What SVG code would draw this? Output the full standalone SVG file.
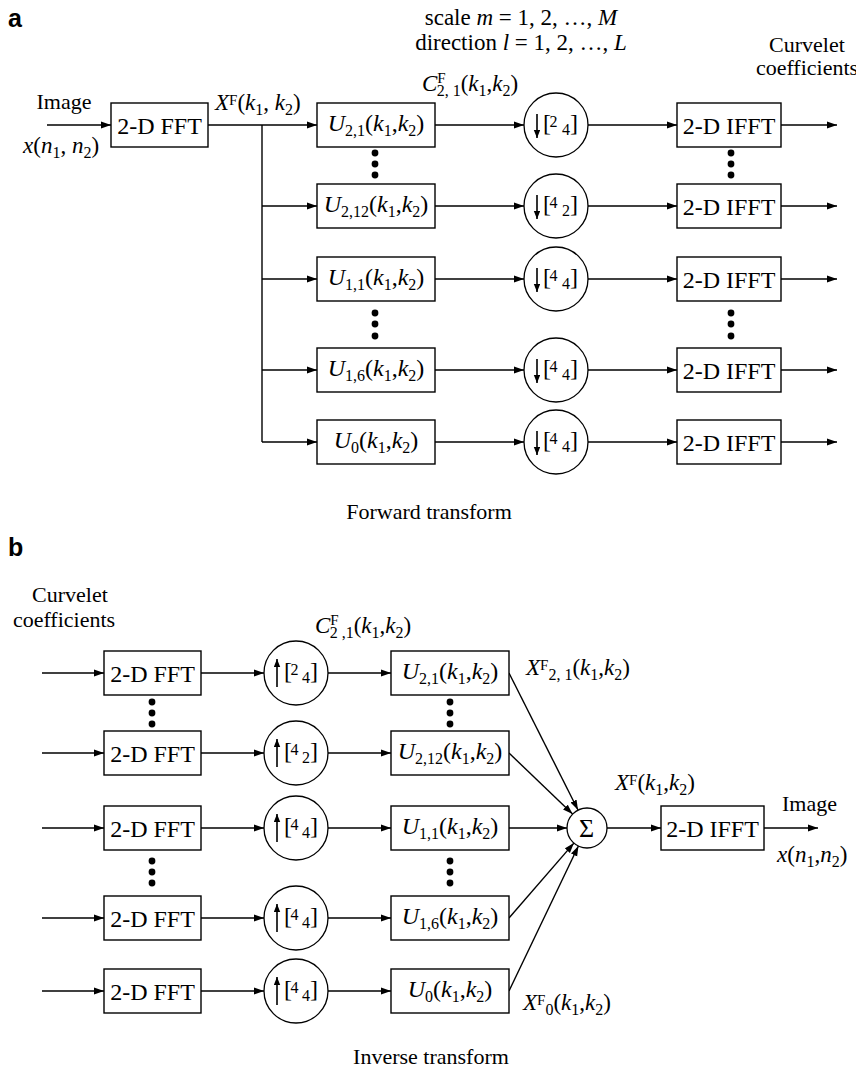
<svg xmlns="http://www.w3.org/2000/svg" width="856" height="1070" viewBox="0 0 856 1070">
<defs>
<marker id="ah" markerWidth="11" markerHeight="8" refX="10" refY="4" orient="auto" markerUnits="userSpaceOnUse"><path d="M0,0.6 L10,4 L0,7.4 z" fill="#000"/></marker>
<marker id="sh" markerWidth="9" markerHeight="7" refX="8" refY="3.2" orient="auto" markerUnits="userSpaceOnUse"><path d="M0,0 L8,3.2 L0,6.4 z" fill="#000"/></marker>
<style>
.box{fill:#fff;stroke:#000;stroke-width:1.4}
.cir{fill:#fff;stroke:#000;stroke-width:1.3}
.ln{fill:none;stroke:#000;stroke-width:1.4}
.ar{fill:none;stroke:#000;stroke-width:1.4;marker-end:url(#ah)}
.sa{fill:none;stroke:#000;stroke-width:1.6;marker-end:url(#sh)}
.dot{fill:#000}
text{font-family:"Liberation Serif","Times New Roman",serif;font-size:22px;fill:#000}
.c{text-anchor:middle}
.m{font-size:23px}
.bl{font-size:24px}
.ul{font-size:24px}
.i{font-style:italic}
.s{font-size:16px}
.br{font-size:24px}
.d{font-size:15px}
.dd{font-size:16px}
.sg{font-size:26px}
.lab{font-family:"Liberation Sans",Arial,sans-serif;font-weight:bold;font-size:25px}
</style>
</defs>

<!-- ===== Part a ===== -->
<text class="lab" x="8" y="27">a</text>
<text class="c" x="64" y="109">Image</text>
<text class="m" x="23" y="153"><tspan class="i">x</tspan>(<tspan class="i">n</tspan><tspan class="s" dy="5">1</tspan><tspan dy="-5">, </tspan><tspan class="i">n</tspan><tspan class="s" dy="5">2</tspan><tspan dy="-5">)</tspan></text>
<text class="m" x="215" y="110"><tspan class="i">X</tspan><tspan class="d" dy="-5">F</tspan><tspan dy="5">(</tspan><tspan class="i">k</tspan><tspan class="s" dy="5">1</tspan><tspan dy="-5">, </tspan><tspan class="i">k</tspan><tspan class="s" dy="5">2</tspan><tspan dy="-5">)</tspan></text>
<text class="c m" x="521" y="25">scale <tspan class="i">m</tspan> = 1, 2, …, <tspan class="i">M</tspan></text>
<text class="c m" x="521" y="50">direction <tspan class="i">l</tspan> = 1, 2, …, <tspan class="i">L</tspan></text>
<text class="m" x="422" y="91"><tspan class="i">C</tspan><tspan class="d" dy="-8">F</tspan><tspan class="s" dx="-9" dy="13">2, 1</tspan><tspan dy="-5">(</tspan><tspan class="i">k</tspan><tspan class="s" dy="5">1</tspan><tspan dy="-5">,</tspan><tspan class="i">k</tspan><tspan class="s" dy="5">2</tspan><tspan dy="-5">)</tspan></text>
<text class="c" x="807" y="52">Curvelet</text>
<text class="c" x="807" y="75">coefficients</text>
<text class="c" x="429" y="519">Forward transform</text>

<g id="a-connectors">
<line class="ar" x1="47" y1="125" x2="111" y2="125"/>
<line class="ar" x1="208" y1="125" x2="317" y2="125"/>
<line class="ln" x1="262" y1="125" x2="262" y2="442"/>
<line class="ar" x1="262" y1="206" x2="317" y2="206"/>
<line class="ar" x1="262" y1="279" x2="317" y2="279"/>
<line class="ar" x1="262" y1="370" x2="317" y2="370"/>
<line class="ar" x1="262" y1="442" x2="317" y2="442"/>
<line class="ar" x1="435" y1="125" x2="524" y2="125"/>
<line class="ar" x1="435" y1="206" x2="524" y2="206"/>
<line class="ar" x1="435" y1="279" x2="524" y2="279"/>
<line class="ar" x1="435" y1="370" x2="524" y2="370"/>
<line class="ar" x1="435" y1="442" x2="524" y2="442"/>
<line class="ar" x1="588" y1="125" x2="677" y2="125"/>
<line class="ar" x1="588" y1="206" x2="677" y2="206"/>
<line class="ar" x1="588" y1="279" x2="677" y2="279"/>
<line class="ar" x1="588" y1="370" x2="677" y2="370"/>
<line class="ar" x1="588" y1="442" x2="677" y2="442"/>
<line class="ar" x1="781" y1="125" x2="837" y2="125"/>
<line class="ar" x1="781" y1="206" x2="837" y2="206"/>
<line class="ar" x1="781" y1="279" x2="837" y2="279"/>
<line class="ar" x1="781" y1="370" x2="837" y2="370"/>
<line class="ar" x1="781" y1="442" x2="837" y2="442"/>
</g>

<g id="a-fft"><rect class="box" x="111" y="103" width="97" height="44"/><text class="c bl" x="159.5" y="134">2-D FFT</text></g>

<g id="a-u21"><rect class="box" x="317" y="103" width="118" height="44"/><text class="c ul" x="376" y="131"><tspan class="i">U</tspan><tspan class="s" dy="5">2,1</tspan><tspan dy="-5">(</tspan><tspan class="i">k</tspan><tspan class="s" dy="5">1</tspan><tspan dy="-5">,</tspan><tspan class="i">k</tspan><tspan class="s" dy="5">2</tspan><tspan dy="-5">)</tspan></text></g>
<g id="a-u212"><rect class="box" x="317" y="184" width="118" height="44"/><text class="c ul" x="376" y="212"><tspan class="i">U</tspan><tspan class="s" dy="5">2,12</tspan><tspan dy="-5">(</tspan><tspan class="i">k</tspan><tspan class="s" dy="5">1</tspan><tspan dy="-5">,</tspan><tspan class="i">k</tspan><tspan class="s" dy="5">2</tspan><tspan dy="-5">)</tspan></text></g>
<g id="a-u11"><rect class="box" x="317" y="257" width="118" height="44"/><text class="c ul" x="376" y="285"><tspan class="i">U</tspan><tspan class="s" dy="5">1,1</tspan><tspan dy="-5">(</tspan><tspan class="i">k</tspan><tspan class="s" dy="5">1</tspan><tspan dy="-5">,</tspan><tspan class="i">k</tspan><tspan class="s" dy="5">2</tspan><tspan dy="-5">)</tspan></text></g>
<g id="a-u16"><rect class="box" x="317" y="348" width="118" height="44"/><text class="c ul" x="376" y="376"><tspan class="i">U</tspan><tspan class="s" dy="5">1,6</tspan><tspan dy="-5">(</tspan><tspan class="i">k</tspan><tspan class="s" dy="5">1</tspan><tspan dy="-5">,</tspan><tspan class="i">k</tspan><tspan class="s" dy="5">2</tspan><tspan dy="-5">)</tspan></text></g>
<g id="a-u0"><rect class="box" x="317" y="420" width="118" height="44"/><text class="c ul" x="376" y="448"><tspan class="i">U</tspan><tspan class="s" dy="5">0</tspan><tspan dy="-5">(</tspan><tspan class="i">k</tspan><tspan class="s" dy="5">1</tspan><tspan dy="-5">,</tspan><tspan class="i">k</tspan><tspan class="s" dy="5">2</tspan><tspan dy="-5">)</tspan></text></g>

<g id="a-d1"><circle class="cir" cx="556" cy="125" r="32"/><line class="sa" x1="537" y1="114" x2="537" y2="138"/><text><tspan class="br" x="543" y="131">[</tspan><tspan class="dd" x="549.5" y="127">2</tspan><tspan class="dd" x="562" y="135">4</tspan><tspan class="br" x="570" y="131">]</tspan></text></g>
<g id="a-d2"><circle class="cir" cx="556" cy="206" r="32"/><line class="sa" x1="537" y1="195" x2="537" y2="219"/><text><tspan class="br" x="543" y="212">[</tspan><tspan class="dd" x="549.5" y="208">4</tspan><tspan class="dd" x="562" y="216">2</tspan><tspan class="br" x="570" y="212">]</tspan></text></g>
<g id="a-d3"><circle class="cir" cx="556" cy="279" r="32"/><line class="sa" x1="537" y1="268" x2="537" y2="292"/><text><tspan class="br" x="543" y="285">[</tspan><tspan class="dd" x="549.5" y="281">4</tspan><tspan class="dd" x="562" y="289">4</tspan><tspan class="br" x="570" y="285">]</tspan></text></g>
<g id="a-d4"><circle class="cir" cx="556" cy="370" r="32"/><line class="sa" x1="537" y1="359" x2="537" y2="383"/><text><tspan class="br" x="543" y="376">[</tspan><tspan class="dd" x="549.5" y="372">4</tspan><tspan class="dd" x="562" y="380">4</tspan><tspan class="br" x="570" y="376">]</tspan></text></g>
<g id="a-d5"><circle class="cir" cx="556" cy="442" r="32"/><line class="sa" x1="537" y1="431" x2="537" y2="455"/><text><tspan class="br" x="543" y="448">[</tspan><tspan class="dd" x="549.5" y="444">4</tspan><tspan class="dd" x="562" y="452">4</tspan><tspan class="br" x="570" y="448">]</tspan></text></g>

<g id="a-ifft1"><rect class="box" x="677" y="103" width="104" height="44"/><text class="c bl" x="729" y="134">2-D IFFT</text></g>
<g id="a-ifft2"><rect class="box" x="677" y="184" width="104" height="44"/><text class="c bl" x="729" y="215">2-D IFFT</text></g>
<g id="a-ifft3"><rect class="box" x="677" y="257" width="104" height="44"/><text class="c bl" x="729" y="288">2-D IFFT</text></g>
<g id="a-ifft4"><rect class="box" x="677" y="348" width="104" height="44"/><text class="c bl" x="729" y="379">2-D IFFT</text></g>
<g id="a-ifft5"><rect class="box" x="677" y="420" width="104" height="44"/><text class="c bl" x="729" y="451">2-D IFFT</text></g>

<g id="a-dots">
<circle class="dot" cx="375" cy="153" r="3.4"/><circle class="dot" cx="375" cy="164" r="3.4"/><circle class="dot" cx="375" cy="175" r="3.4"/>
<circle class="dot" cx="731" cy="153" r="3.4"/><circle class="dot" cx="731" cy="164" r="3.4"/><circle class="dot" cx="731" cy="175" r="3.4"/>
<circle class="dot" cx="375" cy="313" r="3.4"/><circle class="dot" cx="375" cy="324" r="3.4"/><circle class="dot" cx="375" cy="336" r="3.4"/>
<circle class="dot" cx="731" cy="313" r="3.4"/><circle class="dot" cx="731" cy="324" r="3.4"/><circle class="dot" cx="731" cy="336" r="3.4"/>
</g>

<!-- ===== Part b ===== -->
<text class="lab" x="8" y="556">b</text>
<text class="c" x="70" y="602">Curvelet</text>
<text class="c" x="64" y="627">coefficients</text>
<text class="m" x="315" y="633"><tspan class="i">C</tspan><tspan class="d" dy="-8">F</tspan><tspan class="s" dx="-9" dy="13">2 ,1</tspan><tspan dy="-5">(</tspan><tspan class="i">k</tspan><tspan class="s" dy="5">1</tspan><tspan dy="-5">,</tspan><tspan class="i">k</tspan><tspan class="s" dy="5">2</tspan><tspan dy="-5">)</tspan></text>
<text class="m" x="526" y="675"><tspan class="i">X</tspan><tspan class="d" dy="-5">F</tspan><tspan class="s" dy="10">2, 1</tspan><tspan dy="-5">(</tspan><tspan class="i">k</tspan><tspan class="s" dy="5">1</tspan><tspan dy="-5">,</tspan><tspan class="i">k</tspan><tspan class="s" dy="5">2</tspan><tspan dy="-5">)</tspan></text>
<text class="m" x="615" y="790"><tspan class="i">X</tspan><tspan class="d" dy="-5">F</tspan><tspan dy="5">(</tspan><tspan class="i">k</tspan><tspan class="s" dy="5">1</tspan><tspan dy="-5">,</tspan><tspan class="i">k</tspan><tspan class="s" dy="5">2</tspan><tspan dy="-5">)</tspan></text>
<text x="782" y="811">Image</text>
<text class="m" x="777" y="862"><tspan class="i">x</tspan>(<tspan class="i">n</tspan><tspan class="s" dy="5">1</tspan><tspan dy="-5">,</tspan><tspan class="i">n</tspan><tspan class="s" dy="5">2</tspan><tspan dy="-5">)</tspan></text>
<text class="m" x="523" y="1010"><tspan class="i">X</tspan><tspan class="d" dy="-5">F</tspan><tspan class="s" dy="10">0</tspan><tspan dy="-5">(</tspan><tspan class="i">k</tspan><tspan class="s" dy="5">1</tspan><tspan dy="-5">,</tspan><tspan class="i">k</tspan><tspan class="s" dy="5">2</tspan><tspan dy="-5">)</tspan></text>
<text class="c" x="431" y="1064">Inverse transform</text>

<g id="b-connectors">
<line class="ar" x1="42" y1="673" x2="104" y2="673"/>
<line class="ar" x1="42" y1="753" x2="104" y2="753"/>
<line class="ar" x1="42" y1="828" x2="104" y2="828"/>
<line class="ar" x1="42" y1="918" x2="104" y2="918"/>
<line class="ar" x1="42" y1="991" x2="104" y2="991"/>
<line class="ar" x1="201" y1="673" x2="264" y2="673"/>
<line class="ar" x1="201" y1="753" x2="264" y2="753"/>
<line class="ar" x1="201" y1="828" x2="264" y2="828"/>
<line class="ar" x1="201" y1="918" x2="264" y2="918"/>
<line class="ar" x1="201" y1="991" x2="264" y2="991"/>
<line class="ar" x1="328" y1="673" x2="391" y2="673"/>
<line class="ar" x1="328" y1="753" x2="391" y2="753"/>
<line class="ar" x1="328" y1="828" x2="391" y2="828"/>
<line class="ar" x1="328" y1="918" x2="391" y2="918"/>
<line class="ar" x1="328" y1="991" x2="391" y2="991"/>
<line class="ar" x1="509" y1="673" x2="578" y2="810"/>
<line class="ar" x1="509" y1="753" x2="572.6" y2="814.1"/>
<line class="ar" x1="509" y1="828" x2="567" y2="828"/>
<line class="ar" x1="509" y1="918" x2="573.9" y2="843.1"/>
<line class="ar" x1="509" y1="991" x2="578.4" y2="846"/>
<line class="ar" x1="607" y1="828" x2="661" y2="828"/>
<line class="ar" x1="764" y1="828" x2="818" y2="828"/>
</g>

<g id="b-fft1"><rect class="box" x="104" y="651" width="97" height="44"/><text class="c bl" x="152.5" y="682">2-D FFT</text></g>
<g id="b-fft2"><rect class="box" x="104" y="731" width="97" height="44"/><text class="c bl" x="152.5" y="762">2-D FFT</text></g>
<g id="b-fft3"><rect class="box" x="104" y="806" width="97" height="44"/><text class="c bl" x="152.5" y="837">2-D FFT</text></g>
<g id="b-fft4"><rect class="box" x="104" y="896" width="97" height="44"/><text class="c bl" x="152.5" y="927">2-D FFT</text></g>
<g id="b-fft5"><rect class="box" x="104" y="969" width="97" height="44"/><text class="c bl" x="152.5" y="1000">2-D FFT</text></g>

<g id="b-up1"><circle class="cir" cx="296" cy="673" r="32"/><line class="sa" x1="277" y1="687" x2="277" y2="659"/><text><tspan class="br" x="284" y="679">[</tspan><tspan class="dd" x="290.5" y="675">2</tspan><tspan class="dd" x="302" y="683">4</tspan><tspan class="br" x="310" y="679">]</tspan></text></g>
<g id="b-up2"><circle class="cir" cx="296" cy="753" r="32"/><line class="sa" x1="277" y1="767" x2="277" y2="739"/><text><tspan class="br" x="284" y="759">[</tspan><tspan class="dd" x="290.5" y="755">4</tspan><tspan class="dd" x="302" y="763">2</tspan><tspan class="br" x="310" y="759">]</tspan></text></g>
<g id="b-up3"><circle class="cir" cx="296" cy="828" r="32"/><line class="sa" x1="277" y1="842" x2="277" y2="814"/><text><tspan class="br" x="284" y="834">[</tspan><tspan class="dd" x="290.5" y="830">4</tspan><tspan class="dd" x="302" y="838">4</tspan><tspan class="br" x="310" y="834">]</tspan></text></g>
<g id="b-up4"><circle class="cir" cx="296" cy="918" r="32"/><line class="sa" x1="277" y1="932" x2="277" y2="904"/><text><tspan class="br" x="284" y="924">[</tspan><tspan class="dd" x="290.5" y="920">4</tspan><tspan class="dd" x="302" y="928">4</tspan><tspan class="br" x="310" y="924">]</tspan></text></g>
<g id="b-up5"><circle class="cir" cx="296" cy="991" r="32"/><line class="sa" x1="277" y1="1005" x2="277" y2="977"/><text><tspan class="br" x="284" y="997">[</tspan><tspan class="dd" x="290.5" y="993">4</tspan><tspan class="dd" x="302" y="1001">4</tspan><tspan class="br" x="310" y="997">]</tspan></text></g>

<g id="b-u21"><rect class="box" x="391" y="651" width="118" height="44"/><text class="c ul" x="450" y="679"><tspan class="i">U</tspan><tspan class="s" dy="5">2,1</tspan><tspan dy="-5">(</tspan><tspan class="i">k</tspan><tspan class="s" dy="5">1</tspan><tspan dy="-5">,</tspan><tspan class="i">k</tspan><tspan class="s" dy="5">2</tspan><tspan dy="-5">)</tspan></text></g>
<g id="b-u212"><rect class="box" x="391" y="731" width="118" height="44"/><text class="c ul" x="450" y="759"><tspan class="i">U</tspan><tspan class="s" dy="5">2,12</tspan><tspan dy="-5">(</tspan><tspan class="i">k</tspan><tspan class="s" dy="5">1</tspan><tspan dy="-5">,</tspan><tspan class="i">k</tspan><tspan class="s" dy="5">2</tspan><tspan dy="-5">)</tspan></text></g>
<g id="b-u11"><rect class="box" x="391" y="806" width="118" height="44"/><text class="c ul" x="450" y="834"><tspan class="i">U</tspan><tspan class="s" dy="5">1,1</tspan><tspan dy="-5">(</tspan><tspan class="i">k</tspan><tspan class="s" dy="5">1</tspan><tspan dy="-5">,</tspan><tspan class="i">k</tspan><tspan class="s" dy="5">2</tspan><tspan dy="-5">)</tspan></text></g>
<g id="b-u16"><rect class="box" x="391" y="896" width="118" height="44"/><text class="c ul" x="450" y="924"><tspan class="i">U</tspan><tspan class="s" dy="5">1,6</tspan><tspan dy="-5">(</tspan><tspan class="i">k</tspan><tspan class="s" dy="5">1</tspan><tspan dy="-5">,</tspan><tspan class="i">k</tspan><tspan class="s" dy="5">2</tspan><tspan dy="-5">)</tspan></text></g>
<g id="b-u0"><rect class="box" x="391" y="969" width="118" height="44"/><text class="c ul" x="450" y="997"><tspan class="i">U</tspan><tspan class="s" dy="5">0</tspan><tspan dy="-5">(</tspan><tspan class="i">k</tspan><tspan class="s" dy="5">1</tspan><tspan dy="-5">,</tspan><tspan class="i">k</tspan><tspan class="s" dy="5">2</tspan><tspan dy="-5">)</tspan></text></g>

<g id="b-sum"><circle class="cir" cx="587" cy="828" r="20"/><text class="c sg" x="586.5" y="837">Σ</text></g>
<g id="b-ifft"><rect class="box" x="661" y="806" width="103" height="44"/><text class="c bl" x="712.5" y="837">2-D IFFT</text></g>

<g id="b-dots">
<circle class="dot" cx="152" cy="702" r="3.4"/><circle class="dot" cx="152" cy="713" r="3.4"/><circle class="dot" cx="152" cy="724" r="3.4"/>
<circle class="dot" cx="450" cy="702" r="3.4"/><circle class="dot" cx="450" cy="713" r="3.4"/><circle class="dot" cx="450" cy="724" r="3.4"/>
<circle class="dot" cx="152" cy="861" r="3.4"/><circle class="dot" cx="152" cy="872" r="3.4"/><circle class="dot" cx="152" cy="883" r="3.4"/>
<circle class="dot" cx="450" cy="861" r="3.4"/><circle class="dot" cx="450" cy="872" r="3.4"/><circle class="dot" cx="450" cy="883" r="3.4"/>
</g>
</svg>
